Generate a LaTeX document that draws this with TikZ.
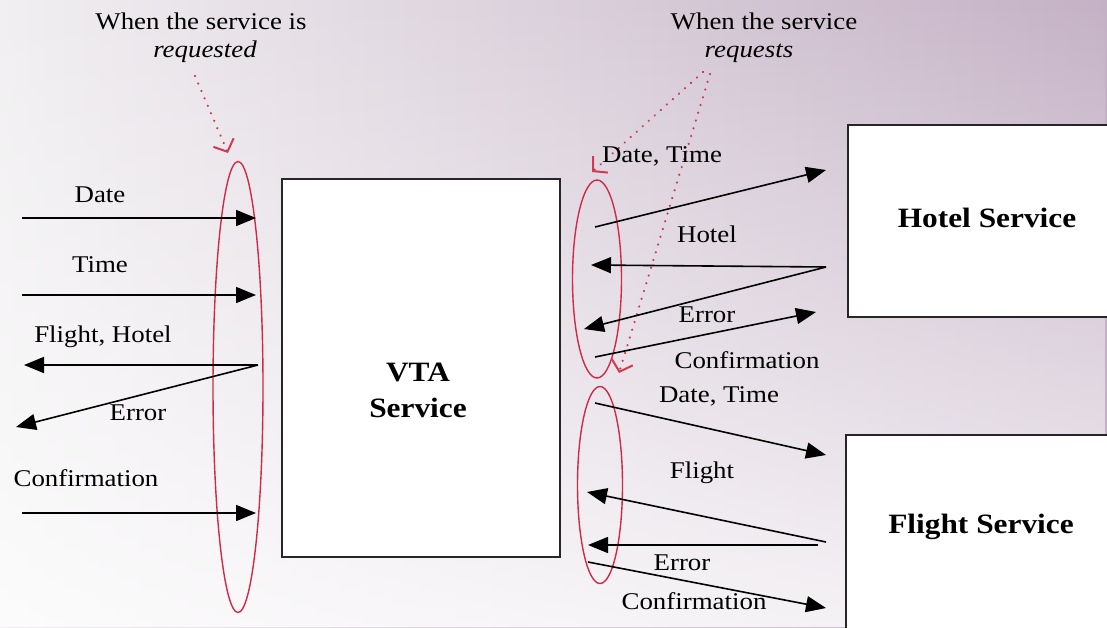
\documentclass[tikz,border=0pt]{standalone}
\usepackage{fontspec}
\setmainfont{Liberation Serif}[FakeStretch=1.12]
\usetikzlibrary{arrows.meta,shapes.geometric,fadings}

\definecolor{bgdark}{HTML}{C4B1C5}
\definecolor{bglight}{HTML}{F1EFF1}
\definecolor{ellred}{HTML}{D02A48}
\definecolor{dotred}{HTML}{D23A50}

\tikzfading[name=bottomwhite, top color=transparent!100, middle color=transparent!88, bottom color=transparent!20]

\begin{document}
\begin{tikzpicture}[x=1pt,y=-1pt,
  lbl/.style={font=\fontsize{24}{26}\selectfont, inner sep=0pt, text height=16pt, text depth=0pt},
  boxtxt/.style={font=\fontsize{28}{36}\selectfont\bfseries, align=center, inner sep=0pt},
  box/.style={rectangle, draw=black!85, line width=2pt, fill=white, inner sep=0pt},
  flow/.style={black, line width=1.6pt, -{Triangle[length=20pt,width=16pt]}},
  ring/.style={ellipse, draw=ellred, line width=1.4pt, inner sep=0pt},
  hint/.style={dotred, line width=2.4pt, dash pattern=on 0.1pt off 8pt, line cap=round,
               -{Straight Barb[length=10pt,width=22pt,line width=2pt]}},
]
% canvas and background
\useasboundingbox (0,0) rectangle (1107,627);
\clip (0,0) rectangle (1107,627);
\shade[left color=bglight, right color=bgdark] (0,0) rectangle (1107,627);
\fill[white, path fading=bottomwhite] (0,0) rectangle (1107,627);

% boxes
\node[box, minimum width=278pt, minimum height=378pt] (vta) at (421,368) {};
\node[box, minimum width=280pt, minimum height=192pt] (hotel) at (988,221) {};
\node[box, minimum width=280pt, minimum height=210pt] (flight) at (986,540) {};
\node[boxtxt] (vtatxt) at (418,390) {VTA\\Service};
\node[boxtxt] (hoteltxt) at (987,218) {Hotel Service};
\node[boxtxt] (flighttxt) at (981,527) {Flight Service};

% grouping ellipses
\node[ring, minimum width=50pt, minimum height=451pt] (inring) at (238,387) {};
\node[ring, minimum width=49pt, minimum height=198pt] (hring) at (597,279) {};
\node[ring, minimum width=45pt, minimum height=197pt] (fring) at (600,485) {};

% annotations
\node[lbl] (reqd1) at (201,21) {When the service is};
\node[lbl] (reqd2) at (205,49) {\itshape requested};
\node[lbl] (reqs1) at (764,21) {When the service};
\node[lbl] (reqs2) at (749,49) {\itshape requests};

\coordinate (h1s) at (195,76);  \coordinate (h1e) at (228,153);
\coordinate (h2s) at (703,72);  \coordinate (h2e) at (592,172);
\coordinate (h3s) at (710,74);  \coordinate (h3e) at (619,373);
\draw[hint] (h1s) -- (h1e);
\draw[hint] (h2s) -- (h2e);
\draw[hint] (h3s) -- (h3e);

% left side messages
\coordinate (l1s) at (22,218);  \coordinate (l1e) at (256,218);
\coordinate (l2s) at (22,295);  \coordinate (l2e) at (256,295);
\coordinate (l3s) at (258,365); \coordinate (l3e) at (24,365);
\coordinate (l4e) at (16,427);
\coordinate (l5s) at (22,513);  \coordinate (l5e) at (256,513);
\draw[flow] (l1s) -- (l1e);
\draw[flow] (l2s) -- (l2e);
\draw[flow] (l3s) -- (l3e);
\draw[flow] (l3s) -- (l4e);
\draw[flow] (l5s) -- (l5e);
\node[lbl] (tdate) at (100,194) {Date};
\node[lbl] (ttime) at (100,264) {Time};
\node[lbl] (tfh) at (103,334) {Flight, Hotel};
\node[lbl] (terr) at (138,412) {Error};
\node[lbl] (tconf) at (86,478) {Confirmation};

% hotel messages
\coordinate (r1s) at (595,227); \coordinate (r1e) at (826,170);
\coordinate (r2s) at (826,267); \coordinate (r2e) at (591,265);
\coordinate (r3e) at (584,329);
\coordinate (r4s) at (595,357); \coordinate (r4e) at (816,312);
\draw[flow] (r1s) -- (r1e);
\draw[flow] (r2s) -- (r2e);
\draw[flow] (r2s) -- (r3e);
\draw[flow] (r4s) -- (r4e);
\node[lbl] (hdt) at (662,154) {Date, Time};
\node[lbl] (hho) at (707,234) {Hotel};
\node[lbl] (her) at (707,314) {Error};
\node[lbl] (hco) at (747,360) {Confirmation};

% flight messages
\coordinate (f1s) at (595,403); \coordinate (f1e) at (826,455);
\coordinate (f2s) at (826,542); \coordinate (f2e) at (587,492);
\coordinate (f3s) at (818,545); \coordinate (f3e) at (588,545);
\coordinate (f4s) at (588,562); \coordinate (f4e) at (826,608);
\draw[flow] (f1s) -- (f1e);
\draw[flow] (f2s) -- (f2e);
\draw[flow] (f3s) -- (f3e);
\draw[flow] (f4s) -- (f4e);
\node[lbl] (fdt) at (719,394) {Date, Time};
\node[lbl] (ffl) at (702,470) {Flight};
\node[lbl] (fer) at (682,562) {Error};
\node[lbl] (fco) at (694,601) {Confirmation};
\end{tikzpicture}
\end{document}
